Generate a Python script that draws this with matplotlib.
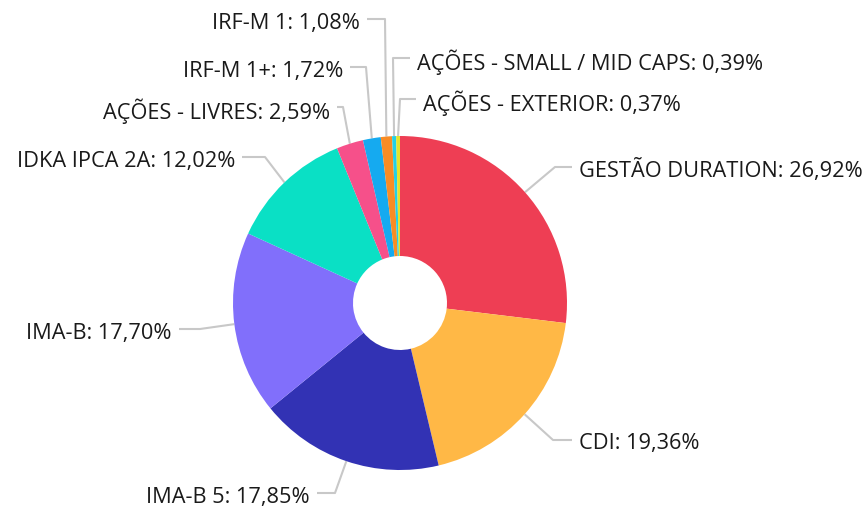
import matplotlib.pyplot as plt
import numpy as np

labels = ["GESTÃO DURATION", "CDI", "IMA-B 5", "IMA-B", "IDKA IPCA 2A",
          "AÇÕES - LIVRES", "IRF-M 1+", "IRF-M 1",
          "AÇÕES - SMALL / MID CAPS", "AÇÕES - EXTERIOR"]
values = [26.92, 19.36, 17.85, 17.70, 12.02, 2.59, 1.72, 1.08, 0.39, 0.37]
colors = ["#ee3e54", "#ffb846", "#3232b4", "#816ffb", "#0ae0c5",
          "#f6508a", "#15aaf0", "#f98c24", "#22d0e6", "#e4e42a"]

# label layout in pixels: (line y, elbow x, text x, side)
W, H = 868, 513
CX, CY, R = 400, 303, 167
layout = [
    (167, 555, 579, "left"),
    (440, 553, 579, "left"),
    (493, 335, 310, "right"),
    (329, 200, 172, "right"),
    (157, 265, 235, "right"),
    (107, 343, 330, "right"),
    (67, 366, 343, "right"),
    (19, 385, 360, "right"),
    (58, 393, 417, "left"),
    (99, 400, 423, "left"),
]


def px(x, y):
    return (x - CX) / R, (CY - y) / R


plt.rcParams['font.family'] = ['Open Sans', 'DejaVu Sans']
fig = plt.figure(figsize=(W / 100, H / 100), dpi=100)
ax = fig.add_axes([0, 0, 1, 1])

wedges, _ = ax.pie(values, colors=colors, startangle=90, counterclock=False,
                   radius=1, wedgeprops=dict(width=1 - 47 / R, linewidth=0))

ax.set_xlim(px(0, 0)[0], px(W, 0)[0])
ax.set_ylim(px(0, H)[1], px(0, 0)[1])
ax.set_aspect('equal')
ax.axis('off')

for w, lab, val, (ly, ex, tx, ha) in zip(wedges, labels, values, layout):
    ang = np.deg2rad((w.theta1 + w.theta2) / 2)
    x0, y0 = np.cos(ang), np.sin(ang)
    exd, lyd = px(ex, ly)
    gap = 7 if ha == "left" else -7
    endx = px(tx - gap, ly)[0]
    ax.plot([x0, exd, endx], [y0, lyd, lyd], color="#c8c8c8", lw=1.5,
            solid_capstyle='butt', zorder=0)
    ax.text(px(tx, ly)[0], px(0, ly + 4)[1], f"{lab}: {val:.2f}%".replace(".", ","),
            ha=ha, va="center", fontsize=15.7, color="#1a1a1a")

fig.savefig("out.png", dpi=100)
